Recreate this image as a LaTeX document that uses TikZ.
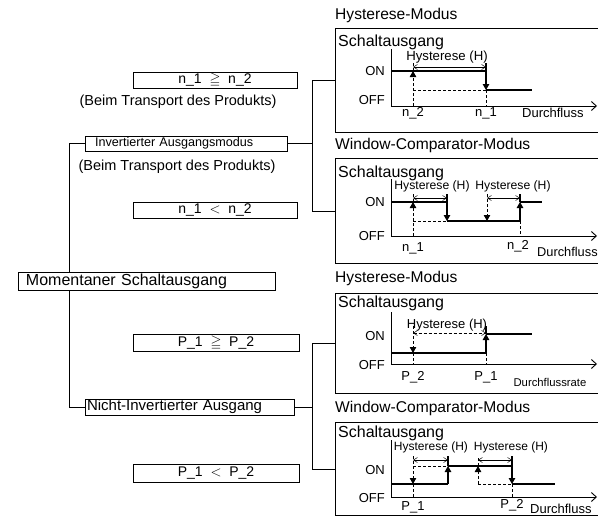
\documentclass[tikz,border=0pt]{standalone}
\usepackage{amssymb}
\usepackage{fontspec}
\setmainfont{Liberation Sans}
\usetikzlibrary{arrows.meta}
\tikzset{
    box/.style = {
        draw, fill=white, line width=0.8pt,
        inner xsep=0pt, inner ysep=0pt,
        align=center
    },
    cond/.style = {
        box, minimum width=164pt, minimum height=16pt,
        font=\fontsize{14}{16}\selectfont
    },
    note/.style = {
        inner sep=0pt, font=\fontsize{14.5}{16}\selectfont
    },
    panel/.style = {
        draw, line width=0.8pt, anchor=north west,
        minimum width=280pt, inner sep=0pt
    },
    title/.style = {
        anchor=west, inner sep=0pt, font=\fontsize{15.6}{18}\selectfont
    },
    head/.style = {
        anchor=west, inner sep=0pt, font=\fontsize{16}{18}\selectfont
    },
    lbl/.style = {
        inner sep=0pt, font=\fontsize{13}{15}\selectfont
    },
    hlbl/.style = {
        inner sep=0pt, font=\fontsize{12.2}{14}\selectfont
    },
    axis/.style = {
        line width=0.9pt
    },
    xaxis/.style = {
        axis, -{Straight Barb[length=5pt,width=9pt]}
    },
    lvl/.style = {
        line width=1.1pt
    },
    dlvl/.style = {
        line width=0.8pt, dash pattern=on 3pt off 2pt
    },
    pulse/.style = {
        -{Triangle[length=6pt,width=6.5pt]}
    },
    hyst/.style = {
        line width=0.5pt,
        {Straight Barb[length=4pt,width=5pt]}-{Straight Barb[length=4pt,width=5pt]}
    }
}

\begin{document}
\begin{tikzpicture}[x=1pt, y=-1pt]
\clip (0,0) rectangle (598,525);

% left side: conditions and modes
\node (ngeq) [cond] at (215,80) {n\_1 \ $\geqq$ \ n\_2};
\node (note1) [note] at (178,102) {(Beim Transport des Produkts)};
\node (ninv) [box, text width=182pt, inner xsep=10pt, align=left, minimum height=15pt,
      font=\fontsize{12.6}{14}\selectfont] at (186,143.5) {Invertierter Ausgangsmodus};
\node (note2) [note] at (177,167) {(Beim Transport des Produkts)};
\node (nless) [cond] at (215,210) {n\_1 \ $<$ \ n\_2};

\node (pgeq) [cond, minimum width=166pt, minimum height=17pt] at (216,342.5) {P\_1 \ $\geqq$ \ P\_2};
\node (nicht) [box, text width=205pt, inner xsep=2pt, align=left, minimum height=16pt,
      font=\fontsize{15}{16}\selectfont] at (189.5,407) {Nicht-Invertierter Ausgang};
\node (pless) [cond, minimum width=166pt, minimum height=18pt] at (216,473) {P\_1 \ $<$ \ P\_2};

\draw [line width=0.8pt] (ninv.west) -- ++(-15,0) |- (nicht.west);
\node (mom) [box, text width=241pt, inner xsep=8pt, align=left, minimum height=18pt,
      font=\fontsize{16}{18}\selectfont] at (146.5,281) {Momentaner Schaltausgang};

% panel boxes
\node (pa) [panel, minimum height=104pt] at (335,28) {};
\node (pb) [panel, minimum height=105pt] at (335,158) {};
\node (pc) [panel, minimum height=100pt] at (335,293) {};
\node (pd) [panel, minimum height=93pt] at (335,422) {};

\draw [line width=0.8pt] (pa.west) -- ++(-23,0) coordinate (ja) |- (pb.west);
\draw [line width=0.8pt] (ninv.east) -- (ninv.east -| ja);
\draw [line width=0.8pt] (pc.west) -- ++(-23,0) coordinate (jb) |- (pd.west);
\draw [line width=0.8pt] (nicht.east) -- (nicht.east -| jb);

% panel a: Hysterese, inverted
\node (ta) [title] at (335,15) {Hysterese-Modus};
\node (sa) [head] at (338,42) {Schaltausgang};
\draw [axis] (391,49) -- (391,106);
\draw [xaxis] (391,106) -- (597,106);
\node (ona) [lbl, anchor=east] at (385,71) {ON};
\node (offa) [lbl, anchor=east] at (385,100) {OFF};
\draw [lvl] (391,71) -- (486,71);
\draw [lvl, pulse] (486,63) -- (486,90);
\draw [lvl] (486,90) -- (532,90);
\draw [dlvl, pulse] (413,106) -- (413,71);
\draw [dlvl] (413,71) -- (413,63);
\draw [dlvl] (413,90) -- (486,90);
\draw [dlvl] (486,90) -- (486,106);
\draw [hyst] (413,67) -- (486,67);
\node (ha) [hlbl, font=\fontsize{13.2}{14}\selectfont] at (447,57) {Hysterese (H)};
\node (a2) [lbl] at (413,113) {n\_2};
\node (a1) [lbl] at (486,113) {n\_1};
\node (xa) [lbl, anchor=west] at (522,113) {Durchfluss};

% panel b: Window-Comparator, inverted
\node (tb) [title] at (335,145) {Window-Comparator-Modus};
\node (sb) [head] at (338,173) {Schaltausgang};
\draw [axis] (391,179) -- (391,236);
\draw [xaxis] (391,236) -- (597,236);
\node (onb) [lbl, anchor=east] at (385,202) {ON};
\node (offb) [lbl, anchor=east] at (385,236) {OFF};
\draw [lvl] (391,202) -- (447,202);
\draw [lvl, pulse] (447,194) -- (447,221);
\draw [lvl] (447,221) -- (520,221);
\draw [lvl, pulse] (520,221) -- (520,202);
\draw [lvl] (520,202) -- (520,194);
\draw [lvl] (520,202) -- (542,202);
\draw [dlvl, pulse] (413,236) -- (413,202);
\draw [dlvl] (413,202) -- (413,194);
\draw [dlvl] (413,221) -- (447,221);
\draw [dlvl, pulse] (487,194) -- (487,221);
\draw [dlvl] (520,221) -- (520,236);
\draw [hyst] (413,198) -- (447,198);
\draw [hyst] (487,198) -- (520,198);
\node (hb1) [hlbl] at (432,186) {Hysterese (H)};
\node (hb2) [hlbl] at (513,186) {Hysterese (H)};
\node (b1) [lbl] at (413,248) {n\_1};
\node (b2) [lbl] at (518,246) {n\_2};
\node (xb) [lbl, anchor=west, font=\fontsize{12.8}{14}\selectfont] at (537,252) {Durchfluss};

% panel c: Hysterese, not inverted
\node (tc) [title] at (335,278) {Hysterese-Modus};
\node (sc) [head] at (338,303) {Schaltausgang};
\draw [axis] (391,312) -- (391,364);
\draw [xaxis] (391,364) -- (597,364);
\node (onc) [lbl, anchor=east] at (385,336) {ON};
\node (offc) [lbl, anchor=east] at (385,365) {OFF};
\draw [lvl] (391,353) -- (486,353);
\draw [lvl, pulse] (486,353) -- (486,334);
\draw [lvl] (486,334) -- (486,326);
\draw [lvl] (486,334) -- (532,334);
\draw [dlvl, pulse] (413,326) -- (413,353);
\draw [dlvl] (413,353) -- (413,364);
\draw [dlvl] (486,353) -- (486,364);
\draw [hyst, dash pattern=on 3pt off 2pt] (413,333) -- (486,333);
\node (hc) [hlbl, font=\fontsize{13}{14}\selectfont] at (447,325) {Hysterese (H)};
\node (c2) [lbl] at (413,377) {P\_2};
\node (c1) [lbl] at (486,377) {P\_1};
\node (xc) [lbl, font=\fontsize{11.3}{13}\selectfont] at (550,382) {Durchflussrate};

% panel d: Window-Comparator, not inverted
\node (td) [title] at (335,408) {Window-Comparator-Modus};
\node (sd) [head] at (338,433) {Schaltausgang};
\draw [axis] (391,440) -- (391,497);
\draw [xaxis] (391,497) -- (597,497);
\node (ond) [lbl, anchor=east] at (385,470) {ON};
\node (offd) [lbl, anchor=east] at (385,498) {OFF};
\draw [lvl] (391,484) -- (448,484);
\draw [lvl, pulse] (448,484) -- (448,466);
\draw [lvl] (448,466) -- (448,456);
\draw [lvl] (448,466) -- (512,466);
\draw [lvl, pulse] (512,456) -- (512,484);
\draw [lvl] (512,484) -- (555,484);
\draw [dlvl, pulse] (413,456) -- (413,484);
\draw [dlvl] (413,466) -- (448,466);
\draw [dlvl] (413,484) -- (413,497);
\draw [dlvl, pulse] (478,484) -- (478,466);
\draw [dlvl] (478,466) -- (478,456);
\draw [dlvl] (478,484) -- (512,484);
\draw [dlvl] (512,484) -- (512,497);
\draw [hyst] (413,460) -- (448,460);
\draw [hyst] (478,460) -- (512,460);
\node (hd1) [hlbl, font=\fontsize{12}{14}\selectfont] at (431,447) {Hysterese (H)};
\node (hd2) [hlbl, font=\fontsize{12}{14}\selectfont] at (511,447) {Hysterese (H)};
\node (d1) [lbl] at (413,507) {P\_1};
\node (d2) [lbl] at (512,505) {P\_2};
\node (xd) [lbl, anchor=west] at (530,509) {Durchfluss};

\end{tikzpicture}
\end{document}
